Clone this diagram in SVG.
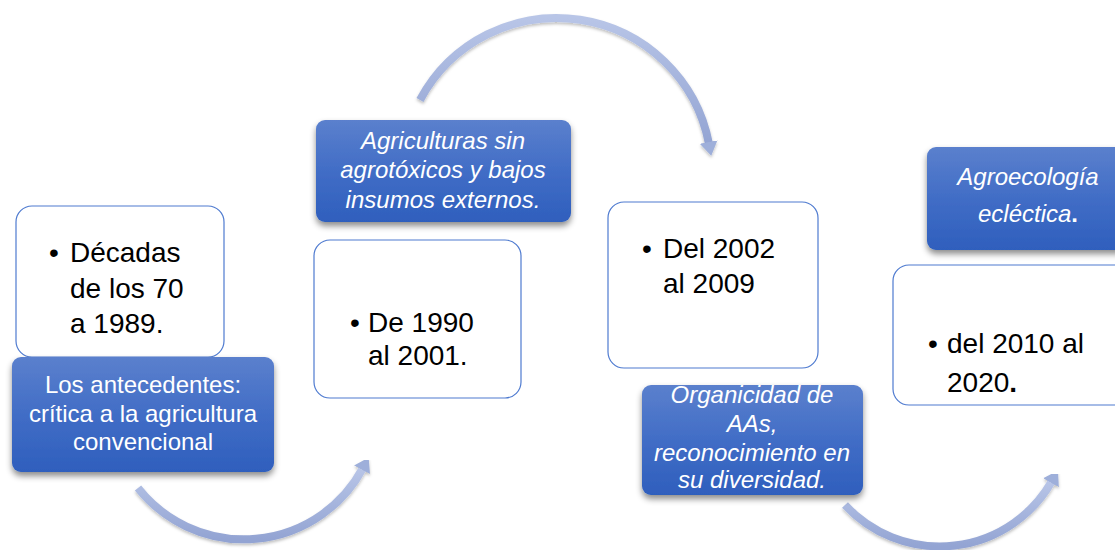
<svg xmlns="http://www.w3.org/2000/svg" width="1115" height="550" viewBox="0 0 1115 550">
  <defs>
    <linearGradient id="blueFill" x1="0" y1="0" x2="0" y2="1">
      <stop offset="0" stop-color="#5b80cd"/>
      <stop offset="0.5" stop-color="#416dc6"/>
      <stop offset="1" stop-color="#2f5fbd"/>
    </linearGradient>
    <linearGradient id="arcStroke" x1="0" y1="0" x2="0" y2="1">
      <stop offset="0" stop-color="#b8c5e7"/>
      <stop offset="1" stop-color="#93a4d3"/>
    </linearGradient>
    <filter id="shadow" x="-10%" y="-10%" width="120%" height="140%">
      <feDropShadow dx="0" dy="4" stdDeviation="3" flood-color="#000" flood-opacity="0.45"/>
    </filter>
    <filter id="arcShadow" x="-10%" y="-10%" width="120%" height="130%">
      <feDropShadow dx="0" dy="2" stdDeviation="1.5" flood-color="#000" flood-opacity="0.25"/>
    </filter>
    <marker id="head" markerUnits="userSpaceOnUse" markerWidth="22" markerHeight="22" viewBox="0 0 22 22" refX="2" refY="11" orient="auto">
      <path d="M0,2 L14,11 L0,20 z" fill="#9eafda"/>
    </marker>
    <style>
      .card { fill: #ffffff; stroke: #4f7bd0; stroke-width: 1.2; }
      .label { fill: url(#blueFill); filter: url(#shadow); }
      .body { font-family: "Liberation Sans", Arial, sans-serif; font-size: 28px; fill: #000; }
      .lt { font-family: "Liberation Sans", Arial, sans-serif; font-size: 24px; fill: #ffffff; text-anchor: middle; }
      .it { font-style: italic; }
      .arc { fill: none; stroke: url(#arcStroke); stroke-width: 8; marker-end: url(#head); filter: url(#arcShadow); }
    </style>
  </defs>

  <g id="connectors">
    <path class="arc" d="M138,488 A135,135 0 0 0 363,468"/>
    <path class="arc" d="M420,100 A155,155 0 0 1 709,144"/>
    <path class="arc" d="M845,505 A129,129 0 0 0 1052,481"/>
  </g>

  <g id="node-1">
    <rect class="card" x="16" y="206" width="208" height="151" rx="16"/>
    <text class="body" x="49" y="262">•</text>
    <text class="body" x="70" y="262">Décadas</text>
    <text class="body" x="70" y="298">de los 70</text>
    <text class="body" x="70" y="333">a 1989.</text>
  </g>
  <g id="label-1">
    <rect class="label" x="12" y="357" width="262" height="115" rx="9"/>
    <text class="lt" x="143" y="393">Los antecedentes:</text>
    <text class="lt" x="143" y="422">crítica a la agricultura</text>
    <text class="lt" x="143" y="450">convencional</text>
  </g>

  <g id="label-2">
    <rect class="label" x="316" y="120" width="255" height="102" rx="9"/>
    <text class="lt it" x="443" y="149">Agriculturas sin</text>
    <text class="lt it" x="443" y="178">agrotóxicos y bajos</text>
    <text class="lt it" x="443" y="208">insumos externos.</text>
  </g>
  <g id="node-2">
    <rect class="card" x="314" y="240" width="207" height="158" rx="16"/>
    <text class="body" x="350" y="332">•</text>
    <text class="body" x="368" y="332">De 1990</text>
    <text class="body" x="368" y="365">al 2001.</text>
  </g>

  <g id="node-3">
    <rect class="card" x="608" y="202" width="210" height="166" rx="16"/>
    <text class="body" x="642" y="258">•</text>
    <text class="body" x="663" y="258">Del 2002</text>
    <text class="body" x="663" y="293">al 2009</text>
  </g>
  <g id="label-3">
    <rect class="label" x="642" y="385" width="221" height="110" rx="9"/>
    <text class="lt it" x="752" y="403">Organicidad de</text>
    <text class="lt it" x="752" y="432">AAs,</text>
    <text class="lt it" x="752" y="461">reconocimiento en</text>
    <text class="lt it" x="752" y="488">su diversidad.</text>
  </g>

  <g id="label-4">
    <rect class="label" x="927" y="147" width="215" height="103" rx="9"/>
    <text class="lt it" x="1028" y="185">Agroecología</text>
    <text class="lt" x="1028" y="222"><tspan class="it">ecléctica</tspan><tspan font-weight="bold">.</tspan></text>
  </g>
  <g id="node-4">
    <rect class="card" x="893" y="265" width="250" height="140" rx="16"/>
    <text class="body" x="928" y="353">•</text>
    <text class="body" x="947" y="353">del 2010 al</text>
    <text class="body" x="947" y="392">2020<tspan font-weight="bold">.</tspan></text>
  </g>
</svg>
